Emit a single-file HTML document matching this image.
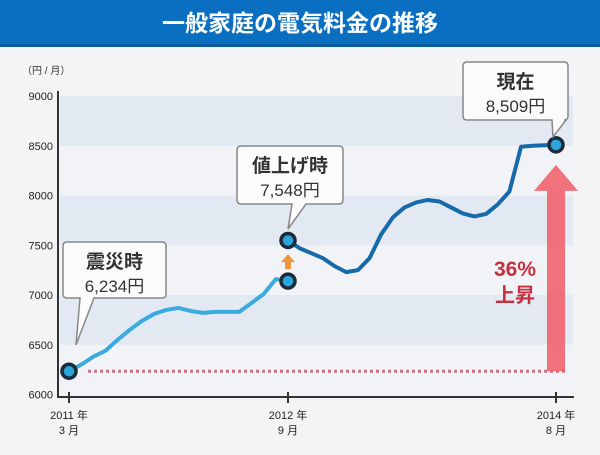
<!DOCTYPE html>
<html><head><meta charset="utf-8">
<style>
body{margin:0;width:600px;height:450px;overflow:hidden;background:#f4f4f6;font-family:"Liberation Sans","Noto Sans CJK JP",sans-serif;}
svg text{font-family:"Liberation Sans","Noto Sans CJK JP",sans-serif;}
</style></head>
<body>
<svg id="chart" width="600" height="450" xmlns="http://www.w3.org/2000/svg">
<rect width="600" height="450" fill="#f4f4f6"/>
<rect x="0" y="0" width="600" height="46" fill="#0b6fc1"/>
<rect x="0" y="44" width="600" height="3" fill="#0a5a9e"/>
<text x="300" y="31" text-anchor="middle" font-size="23" font-weight="bold" fill="#fff">一般家庭の電気料金の推移</text>
<text x="22" y="74" font-size="10" fill="#333">（円 / 月）</text>
<g id="bands"></g>
<g id="yticks"></g>
<line id="dotline" stroke="#c9737f" stroke-width="3" stroke-dasharray="3,3"/>
<g id="axes"></g>
<g id="arrow"></g>
<text x="515" y="276" text-anchor="middle" font-size="21" font-weight="bold" fill="#c4303e">36%</text>
<text x="515" y="302" text-anchor="middle" font-size="20" font-weight="bold" fill="#c4303e">上昇</text>
<g id="lines"></g>
<g id="callouts"></g>
</svg>
<script>
const yTicks=[6000,6500,7000,7500,8000,8500,9000];
const months=[0,1,2,3,4,5,6,7,8,9,10,11,12,13,14,15,16,17,18];
const valuesBefore=[6234,6300,6380,6440,6550,6650,6740,6810,6850,6870,6840,6820,6830,6830,6830,6920,7010,7160,7140];
const monthsAfter=[18,19,20,21,22,23,24,25,26,27,28,29,30,31,32,33,34,35,36,37,38,39,40,41];
const valuesAfter=[7548,7470,7420,7370,7290,7230,7250,7370,7610,7780,7880,7930,7955,7940,7880,7820,7790,7815,7910,8040,8490,8500,8505,8509];
const xTickMonths=[0,18,41];
const xTickLabels=[["2011 年","3 月"],["2012 年","9 月"],["2014 年","8 月"]];
const startValue=6234, hikeValue=7548, nowValue=8509, preHikeValue=7140;

const NS="http://www.w3.org/2000/svg";
function xs(m){return m<=18?69+m*(288-69)/18:288+(m-18)*(556-288)/23;}
function ys(v){return 96+(9000-v)*0.0995;}
function el(tag,attrs,parent){const e=document.createElementNS(NS,tag);for(const k in attrs)e.setAttribute(k,attrs[k]);parent.appendChild(e);return e;}

const bands=document.getElementById('bands');
for(let i=0;i<yTicks.length-1;i++){
  const r=el('rect',{x:60,y:ys(yTicks[i+1]),width:513,height:ys(yTicks[i])-ys(yTicks[i+1]),fill:(i%2===1)?'#e2e9f2':'#f2f3f6'},bands);
  
  
}
const yt=document.getElementById('yticks');
yTicks.forEach(v=>{
  const t=el('text',{x:53,y:ys(v)+4,'text-anchor':'end','font-size':11,fill:'#222'},yt);
  t.textContent=v;
  
  
});
const dl=document.getElementById('dotline');
dl.setAttribute('x1',88);dl.setAttribute('x2',568);dl.setAttribute('y1',ys(startValue));dl.setAttribute('y2',ys(startValue));

const ax=document.getElementById('axes');
const ya=el('line',{x1:58,y1:91,x2:58,y2:397,stroke:'#333','stroke-width':2},ax);


const xa=el('line',{x1:57,y1:397,x2:574,y2:397,stroke:'#333','stroke-width':2},ax);


xTickMonths.forEach((m,i)=>{
  el('line',{x1:xs(m),y1:392,x2:xs(m),y2:403,stroke:'#333','stroke-width':2},ax);
  const t1=el('text',{x:xs(m),y:419,'text-anchor':'middle','font-size':11,fill:'#222'},ax);
  t1.textContent=xTickLabels[i][0];
  
  
  const t2=el('text',{x:xs(m),y:434,'text-anchor':'middle','font-size':11,fill:'#222'},ax);
  t2.textContent=xTickLabels[i][1];
  
  
});

const ar=document.getElementById('arrow');
const ax0=xs(41), arrTop=ys(nowValue)+20, arrBot=ys(startValue);
const arr=el('path',{d:`M${ax0-9},${arrBot} L${ax0-9},${arrTop+26} L${ax0-22},${arrTop+26} L${ax0},${arrTop} L${ax0+22},${arrTop+26} L${ax0+9},${arrTop+26} L${ax0+9},${arrBot} Z`,fill:'#ee5a66','fill-opacity':0.85},ar);



const ln=document.getElementById('lines');
const p1=el('polyline',{points:months.map((m,i)=>xs(m)+','+ys(valuesBefore[i])).join(' '),fill:'none',stroke:'#3aaadf','stroke-width':4,'stroke-linejoin':'round'},ln);


const p2=el('polyline',{points:monthsAfter.map((m,i)=>xs(m)+','+ys(valuesAfter[i])).join(' '),fill:'none',stroke:'#176aa9','stroke-width':4,'stroke-linejoin':'round'},ln);


const hx=xs(18), hy=ys(preHikeValue);
const oa=el('path',{d:`M${hx-3},${hy-12} L${hx+3},${hy-12} L${hx+3},${hy-19} L${hx+7},${hy-19} L${hx},${hy-27} L${hx-7},${hy-19} L${hx-3},${hy-19} Z`,fill:'#f0953a'},ln);


[[0,startValue],[18,preHikeValue],[18,hikeValue],[41,nowValue]].forEach(([m,v])=>{
  const c=el('circle',{cx:xs(m),cy:ys(v),r:7,fill:'#2ba6dd',stroke:'#1b2b3a','stroke-width':3.5},ln);
  
  
});

const co=document.getElementById('callouts');
function callout(bx,by,w,h,tx,ty,l1,l2,name){
  const g=el('g',{},co);
  
  
  const cx=bx+w/2;
  const tb=(tx<cx)?Math.max(bx+12,tx+8):Math.min(bx+w-12,tx+8);
  el('path',{d:`M${bx+4},${by} H${bx+w-4} Q${bx+w},${by} ${bx+w},${by+4} V${by+h-4} Q${bx+w},${by+h} ${bx+w-4},${by+h} H${tb+10} L${tx},${ty} L${tb-4},${by+h} H${bx+4} Q${bx},${by+h} ${bx},${by+h-4} V${by+4} Q${bx},${by} ${bx+4},${by} Z`,fill:'#fbfbfb',stroke:'#888','stroke-width':1.5},g);
  const a=el('text',{x:cx,y:by+26,'text-anchor':'middle','font-size':19,'font-weight':'bold',fill:'#333'},g);a.textContent=l1;
  const b=el('text',{x:cx,y:by+50,'text-anchor':'middle','font-size':17,fill:'#333'},g);b.textContent=l2;
}
callout(63,242,103,56,76,345,'震災時','6,234円','callout-earthquake');
callout(237,146,106,58,288,229,'値上げ時','7,548円','callout-price-hike');
callout(463,62,105,58,553,137,'現在','8,509円','callout-current');
</script>
</body></html>
